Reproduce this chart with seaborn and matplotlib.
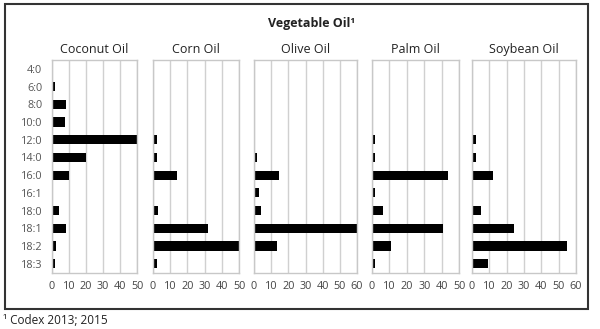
import matplotlib
matplotlib.use("Agg")
import matplotlib.pyplot as plt
import seaborn as sns
import pandas as pd
from matplotlib.patches import Rectangle

sns.set_style("white")
plt.rcParams['font.family'] = ['Open Sans', 'DejaVu Sans']

acids = ["4:0", "6:0", "8:0", "10:0", "12:0", "14:0", "16:0", "16:1", "18:0", "18:1", "18:2", "18:3"]
oils = ["Coconut Oil", "Corn Oil", "Olive Oil", "Palm Oil", "Soybean Oil"]
coconut = [0, 2, 8, 7.5, 50, 20, 9.8, 0, 4, 8.5, 2.6, 2]
corn = [0, 0, 0, 0, 2.3, 2.3, 13.9, 0, 2.9, 32, 50, 2.3]
olive = [0, 0, 0, 0, 0, 2, 14.8, 2.9, 3.9, 60, 13.3, 0]
palm = [0, 0, 0, 0, 1.9, 1.9, 43.8, 1.9, 6.3, 41, 11.2, 1.9]
soybean = [0, 0, 0, 0, 2.1, 2.1, 12, 0, 5.2, 24.5, 54.6, 9.2]
xmax = [50, 50, 60, 50, 60]

values = [coconut, corn, olive, palm, soybean]
df = pd.DataFrame([
    {"oil": o, "acid": a, "value": v}
    for o, vals in zip(oils, values) for a, v in zip(acids, vals)
])

W, H = 600, 329
fig = plt.figure(figsize=(W / 100, H / 100), dpi=100)

panels_px = [(52, 137), (153, 239), (254, 357), (372, 459), (472, 576)]
top_px, bot_px = 60, 272.5

for i, (oil, (x0, x1), xm) in enumerate(zip(oils, panels_px, xmax)):
    ax = fig.add_axes([x0 / W, 1 - bot_px / H, (x1 - x0) / W, (bot_px - top_px) / H])
    sub = df[df["oil"] == oil]
    sns.barplot(data=sub, x="value", y="acid", order=acids, color="black",
                saturation=1, width=0.52, linewidth=0, ax=ax, errorbar=None)
    ax.set_xlim(0, xm)
    ax.set_ylim(11.5, -0.5)
    ax.set_xticks(range(0, xm + 1, 10))
    ax.xaxis.grid(True, color="#d0d0d0", linewidth=1)
    ax.yaxis.grid(False)
    ax.set_axisbelow(True)
    for s in ax.spines.values():
        s.set_color("#c8c8c8")
        s.set_linewidth(1)
    ax.tick_params(axis="x", length=0, pad=6, labelsize=7.8, labelcolor="#444444")
    ax.set_xlabel("")
    ax.set_ylabel("")
    if i == 0:
        ax.tick_params(axis="y", length=0, pad=7, labelsize=7.8, labelcolor="#555555")
    else:
        ax.set_yticklabels([])
        ax.tick_params(axis="y", length=0)
    ax.set_title(oil, fontsize=9, color="#222222", pad=5)

fig.text(311 / W, 1 - 24 / H, "Vegetable Oil¹", ha="center", va="center",
         fontsize=9, fontweight="bold", color="#222222")

fig.patches.append(Rectangle((4.5 / W, 1 - 309 / H), (588 - 4.5) / W, (309 - 4) / H,
                             transform=fig.transFigure, fill=False,
                             edgecolor="#333333", linewidth=1.5))

fig.text(3 / W, 1 - 320 / H, "¹ Codex 2013; 2015", ha="left", va="center",
         fontsize=8.5, color="#222222")

fig.savefig("out.png", dpi=100)
